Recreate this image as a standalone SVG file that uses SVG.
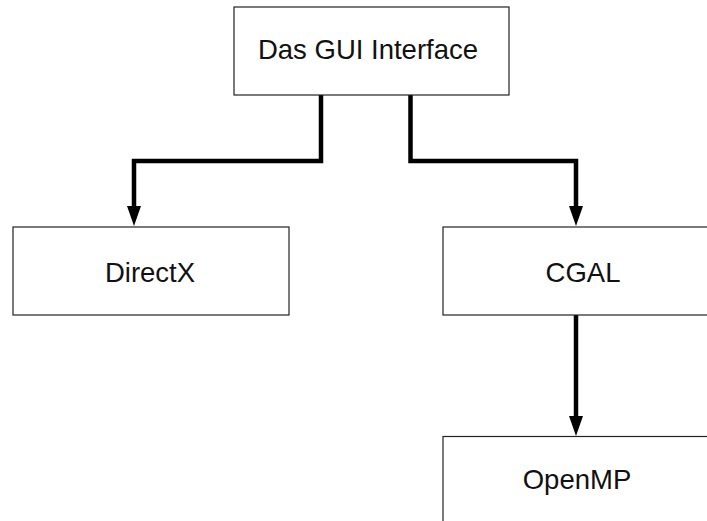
<svg xmlns="http://www.w3.org/2000/svg" width="707" height="521" viewBox="0 0 707 521">
<style>
.box{fill:#fff;stroke:#222;stroke-width:1.2}
.lbl{font-family:"Liberation Sans",Arial,sans-serif;font-size:27.5px;fill:#111;text-anchor:middle}
.conn{fill:none;stroke:#000;stroke-width:4.5;stroke-linejoin:miter}
</style>
<defs>
<marker id="arr" markerUnits="userSpaceOnUse" markerWidth="20" markerHeight="14" refX="6" refY="7" viewBox="0 0 20 14" orient="auto">
<path d="M0,0 L20,7 L0,14 Z" fill="#000"/>
</marker>
</defs>
<rect width="707" height="521" fill="#fff"/>
<g id="connectors">
<path class="conn" d="M321,95 V161 H134 V212" marker-end="url(#arr)"/>
<path class="conn" d="M410.5,95 V161 H576 V212" marker-end="url(#arr)"/>
<path class="conn" d="M576,315 V422" marker-end="url(#arr)"/>
</g>
<g id="gui">
<rect class="box" x="234" y="7" width="275" height="88"/>
<text class="lbl" x="368" y="59">Das GUI Interface</text>
</g>
<g id="directx">
<rect class="box" x="13" y="227" width="276" height="88"/>
<text class="lbl" x="150" y="282">DirectX</text>
</g>
<g id="cgal">
<rect class="box" x="443" y="227" width="280" height="88"/>
<text class="lbl" x="583" y="282">CGAL</text>
</g>
<g id="openmp">
<rect class="box" x="443" y="436.5" width="280" height="100"/>
<text class="lbl" x="577" y="489">OpenMP</text>
</g>
</svg>
